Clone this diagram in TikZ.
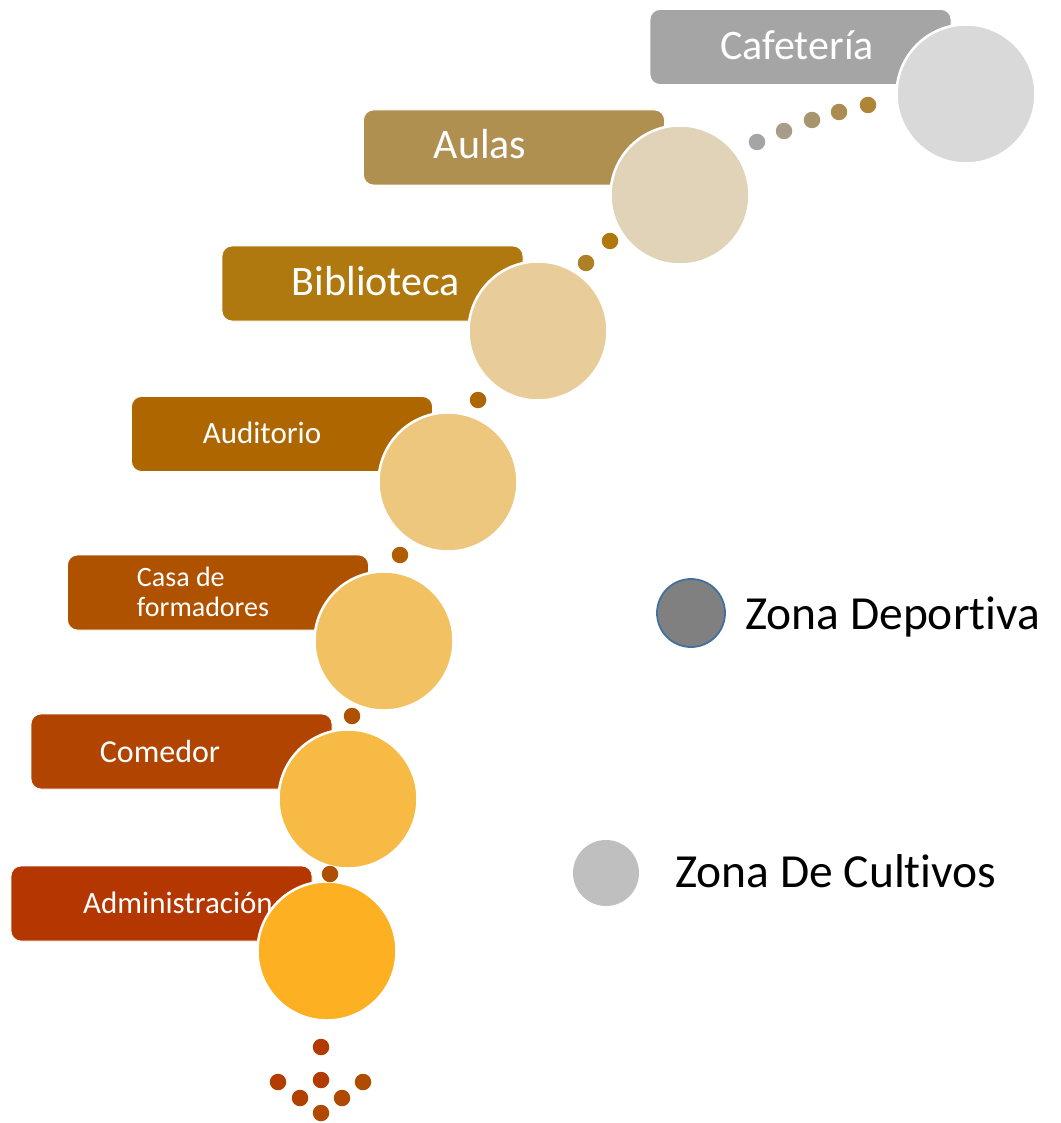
\documentclass[tikz,border=0pt]{standalone}
\usepackage{fontspec}
\setmainfont{Carlito}[Ligatures=NoCommon]
\usetikzlibrary{positioning}
\definecolor{cafBox}{HTML}{A5A5A5}
\definecolor{cafCirc}{HTML}{D9D9D9}
\definecolor{aulBox}{HTML}{B09050}
\definecolor{aulCirc}{HTML}{E0D3B8}
\definecolor{bibBox}{HTML}{AF790F}
\definecolor{bibCirc}{HTML}{E8CD9A}
\definecolor{audBox}{HTML}{AE6600}
\definecolor{audCirc}{HTML}{EDC77E}
\definecolor{casBox}{HTML}{AF5200}
\definecolor{casCirc}{HTML}{F2C262}
\definecolor{comBox}{HTML}{B04400}
\definecolor{comCirc}{HTML}{F6BA45}
\definecolor{admBox}{HTML}{B43600}
\definecolor{admCirc}{HTML}{FDB122}
\definecolor{dotGold}{HTML}{AE8535}
\definecolor{sportGray}{HTML}{808080}
\definecolor{sportRim}{HTML}{41719C}
\definecolor{cropGray}{HTML}{BFBFBF}

\begin{document}
\begin{tikzpicture}[x=1pt, y=-1pt,
    zonebox/.style={rounded corners=10pt, minimum width=301pt, minimum height=75pt,
                    draw=white, line width=0.8pt, inner sep=0pt},
    zonetext/.style={text=white, anchor=base, align=left, inner sep=0pt},
    zonecirc/.style={circle, minimum size=139pt, draw=white, line width=2.5pt, inner sep=0pt},
    smalldot/.style={circle, minimum size=16.5pt, inner sep=0pt},
    legendtext/.style={anchor=base west, inner sep=0pt, font=\fontsize{47.5}{57}\selectfont}]
    \useasboundingbox (0,0) rectangle (1060,1123);
    % the steps: box, label, then the circle on top
    \foreach \nm/\bx/\by/\tx/\ty/\fs/\bc/\cc/\cx/\cy/\lbl in {
        caf/800.5/47/797/60/42/cafBox/cafCirc/966/94/{Cafetería},
        aul/514/147.5/480/159/42/aulBox/aulCirc/680/195/{Aulas},
        bib/372.5/283.5/376/295/42/bibBox/bibCirc/538/331/{Biblioteca},
        aud/282/434/262/443/31/audBox/audCirc/448/482/{Auditorio},
        cas/218/592.5/203/616/28/casBox/casCirc/384/641/{Casa de\\formadores},
        com/181.5/751.5/160/762/32/comBox/comCirc/348/799/{Comedor},
        adm/161.5/903.5/178/913/31/admBox/admCirc/327/951/{Administración}} {
      \node[zonebox, fill=\bc] (\nm) at (\bx,\by) {};
      \node[zonetext, font=\fontsize{\fs}{30}\selectfont] (\nm-t) at (\tx,\ty) {\lbl};
      \node[zonecirc, fill=\cc] (\nm-c) at (\cx,\cy) {};
    }
    % dots between the steps
    \foreach \x/\y/\p [count=\i] in {757/142/100, 784/131/75, 812/120/50, 839/112/25, 868/105/0} {
      \node[smalldot, fill=cafBox!\p!dotGold] (up\i) at (\x,\y) {};
    }
    \foreach \x/\y/\c [count=\i] in {586/263/{dotGold!60!bibBox}, 610/241/bibBox,
        478/400/audBox, 400/555/{audBox!60!casBox}, 352/716/casBox, 330/874/{casBox!80!comBox}} {
      \node[smalldot, fill=\c] (st\i) at (\x,\y) {};
    }
    \foreach \x/\y/\p [count=\i] in {321/1047/90, 278/1082/75, 321/1080/85, 363/1082/20,
        300/1098/60, 342/1098/30, 321/1113/35} {
      \node[smalldot, fill=admBox!\p!casBox] (low\i) at (\x,\y) {};
    }
    % legend
    \node[circle, minimum size=68pt, inner sep=0pt, fill=sportGray, draw=sportRim,
          line width=1.8pt] (dep) at (691,613) {};
    \node[legendtext] (dep-t) at (745,629) {Zona Deportiva};
    \node[circle, minimum size=66pt, inner sep=0pt, fill=cropGray] (cul) at (606,873) {};
    \node[legendtext] (cul-t) at (675,887) {Zona De Cultivos};
\end{tikzpicture}
\end{document}
